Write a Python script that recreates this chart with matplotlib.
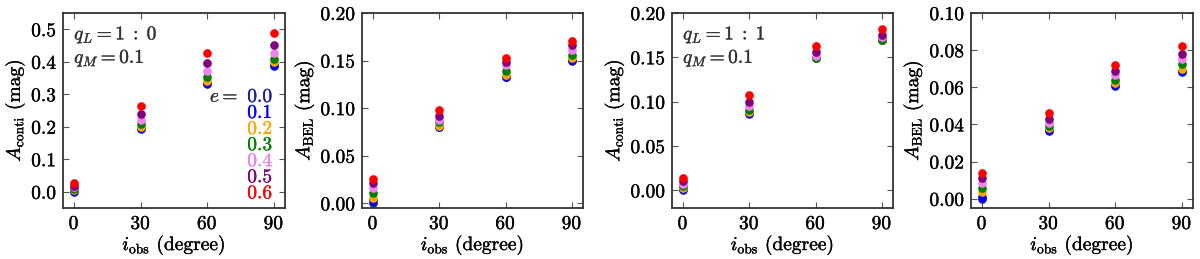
import numpy as np
import matplotlib as mpl
mpl.rcParams['xtick.direction'] = 'in'
mpl.rcParams['ytick.direction'] = 'in'
mpl.rcParams['xtick.top'] = True
mpl.rcParams['ytick.right'] = True
mpl.rcParams['font.family'] = 'serif'
mpl.rcParams['font.serif'] = ['cmr10', 'DejaVu Serif']
mpl.rcParams['mathtext.fontset'] = 'cm'
mpl.rcParams['axes.formatter.use_mathtext'] = True
mpl.rcParams['axes.unicode_minus'] = False
import matplotlib.pyplot as plt
import matplotlib.patheffects as pe

### data
i_obs = [0, 30, 60, 90]
e_vals = ['0.0', '0.1', '0.2', '0.3', '0.4', '0.5', '0.6']
e_colors = ['#1c1ca0', 'blue', 'orange', 'green', 'violet', 'purple', 'red']

# qL = 1:0, continuum; rows = e, cols = i_obs
conti_10 = [
    [0.000, 0.192, 0.333, 0.388],
    [0.003, 0.195, 0.336, 0.391],
    [0.006, 0.200, 0.341, 0.398],
    [0.010, 0.209, 0.354, 0.410],
    [0.014, 0.221, 0.371, 0.426],
    [0.018, 0.238, 0.395, 0.451],
    [0.026, 0.263, 0.428, 0.489],
]
# qL = 1:0, BEL
bel_10 = [
    [0.000, 0.080, 0.1325, 0.150],
    [0.003, 0.080, 0.133, 0.151],
    [0.006, 0.0815, 0.135, 0.153],
    [0.011, 0.085, 0.139, 0.156],
    [0.016, 0.088, 0.145, 0.161],
    [0.021, 0.0915, 0.149, 0.166],
    [0.026, 0.098, 0.153, 0.171],
]
# qL = 1:1, continuum
conti_11 = [
    [0.000, 0.0865, 0.149, 0.170],
    [0.001, 0.087, 0.149, 0.170],
    [0.002, 0.088, 0.149, 0.170],
    [0.0045, 0.091, 0.149, 0.170],
    [0.007, 0.095, 0.152, 0.173],
    [0.010, 0.100, 0.156, 0.175],
    [0.014, 0.108, 0.163, 0.182],
]
# qL = 1:1, BEL
bel_11 = [
    [0.000, 0.0367, 0.0607, 0.068],
    [0.001, 0.037, 0.061, 0.0685],
    [0.0035, 0.038, 0.0625, 0.070],
    [0.006, 0.039, 0.064, 0.0727],
    [0.0085, 0.041, 0.0665, 0.0755],
    [0.011, 0.043, 0.069, 0.0778],
    [0.014, 0.046, 0.072, 0.082],
]

panels = [
    (conti_10, r'$A_{\rm conti}$ (mag)', (-0.05, 0.55), np.arange(0, 0.51, 0.1), '%.1f', r'$q_L = 1\;:\;0$'),
    (bel_10, r'$A_{\rm BEL}$ (mag)', (-0.005, 0.2), np.arange(0, 0.201, 0.05), '%.2f', None),
    (conti_11, r'$A_{\rm conti}$ (mag)', (-0.02, 0.2), np.arange(0, 0.201, 0.05), '%.2f', r'$q_L = 1\;:\;1$'),
    (bel_11, r'$A_{\rm BEL}$ (mag)', (-0.005, 0.1), np.arange(0, 0.101, 0.02), '%.2f', None),
]

FS = 14
# slight stroke to mimic the heavier look of the reference text
def thick(c='black'):
    return [pe.withStroke(linewidth=0.25, foreground=c)]

# axes positions in pixels (left, width)
W, H = 1200., 259.
pos_px = [(63, 222), (362, 221), (672, 221), (971, 222)]

fig = plt.figure(figsize=(12, 2.59), dpi=100)

for k, (vals, ylab, ylim, yticks, fmt, qlab) in enumerate(panels):
    l, w = pos_px[k]
    ax = fig.add_axes([l / W, 51 / H, w / W, 195 / H])
    for j, row in enumerate(vals):
        ax.plot(i_obs, row, 'o', color=e_colors[j], mec=e_colors[j], ms=5.2, ls='none')
    ax.set_xlim(-5, 95)
    ax.set_ylim(*ylim)
    ax.set_xticks(i_obs)
    ax.set_yticks(yticks)
    ax.set_yticklabels([fmt % t for t in yticks])
    ax.tick_params(labelsize=FS, length=4, width=0.8, pad=5, color='#555555')
    for lab in ax.get_xticklabels() + ax.get_yticklabels():
        lab.set_path_effects(thick())
    ax.set_ylabel(ylab, fontsize=FS, labelpad=3, path_effects=thick())
    ax.set_xlabel(r'$i_{\rm obs}$ (degree)', fontsize=FS, labelpad=0, path_effects=thick())
    for s in ax.spines.values():
        s.set_linewidth(1.3)
        s.set_color('#333333')

    if qlab is not None:
        ax.text(0.05, 0.89, qlab, transform=ax.transAxes, fontsize=FS, va='center', ha='left',
                color='#333333', path_effects=thick('#333333'))
        ax.text(0.05, 0.77, r'$q_M = 0.1$', transform=ax.transAxes, fontsize=FS, va='center', ha='left',
                color='#333333', path_effects=thick('#333333'))

    if k == 0:
        # e legend as coloured text
        ax.text(0.79, 0.57, r'$e=$', transform=ax.transAxes, fontsize=FS, va='center', ha='right',
                color='#333333', path_effects=thick('#333333'))
        for j, ev in enumerate(e_vals):
            ax.text(0.83, 0.57 - j * 0.0825, ev, transform=ax.transAxes, fontsize=FS,
                    va='center', ha='left', color=e_colors[j], path_effects=thick(e_colors[j]))

plt.savefig('out.png', dpi=100)
plt.close()
